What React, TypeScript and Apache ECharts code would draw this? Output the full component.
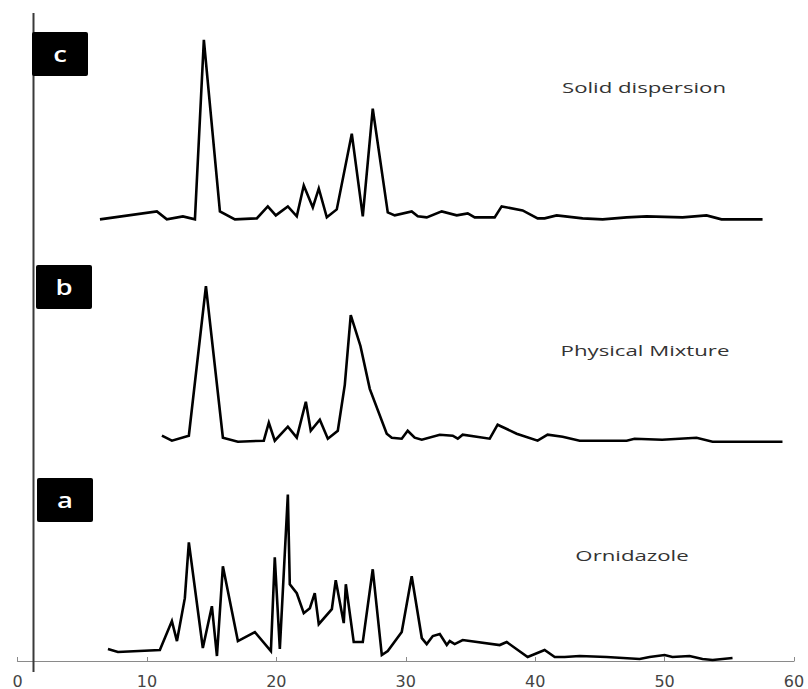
import React, { useEffect, useRef } from "react";
import * as echarts from "echarts";

// X-ray diffraction patterns (2θ, intensity in arbitrary units above each trace's baseline)
const ornidazoleTheta = [
  6.99, 7.76, 11.0, 11.93, 12.32, 12.93, 13.24, 14.32, 15.02, 15.41, 15.87, 17.03, 18.34, 19.58, 19.88,
  20.27, 20.89, 21.04, 21.58, 22.12, 22.59, 22.97, 23.28, 24.29, 24.59, 25.21, 25.37, 25.98, 26.68, 27.45,
  28.15, 28.61, 29.69, 30.46, 31.24, 31.62, 32.09, 32.63, 33.17, 33.4, 33.78, 34.4, 37.26, 37.8, 39.42,
  40.73, 41.51, 42.28, 43.44, 45.52, 48.07, 48.84, 50.0, 50.61, 51.93, 52.93, 53.71, 55.25,
];
const ornidazoleIntensity = [
  12, 9, 11, 40, 20, 63, 119, 13, 55, 5, 95, 20, 29, 10, 104,
  12, 167, 77, 68, 48, 53, 68, 37, 52, 81, 38, 77, 19, 19, 92,
  6, 10, 29, 85, 23, 17, 25, 27, 16, 20, 17, 21, 16, 19, 4,
  11, 4, 4, 5, 4, 2, 4, 6, 4, 5, 2, 1, 3,
];

const physicalTheta = [
  11.16, 11.93, 13.24, 14.56, 15.87, 17.03, 19.03, 19.42, 19.88, 20.89, 21.58, 22.28, 22.66, 23.36, 23.98,
  24.75, 25.29, 25.75, 26.5, 27.22, 28.53, 28.92, 29.69, 30.15, 30.69, 31.24, 32.63, 33.63, 34.02, 34.4,
  36.49, 37.1, 38.57, 40.19, 40.96, 42.12, 43.44, 47.07, 47.68, 49.81, 52.47, 53.71, 56.34, 59.11,
];
const physicalIntensity = [
  6, 1, 6, 156, 4, 0, 1, 19, 1, 15, 4, 40, 11, 22, 3,
  11, 57, 127, 96, 53, 8, 4, 3, 11, 4, 2, 7, 6, 3, 7,
  3, 17, 8, 1, 7, 5, 1, 1, 3, 2, 4, 0, 0, 0,
];

const solidTheta = [
  6.37, 10.77, 11.54, 12.78, 13.71, 14.4, 15.64, 16.8, 18.49, 19.34, 19.96, 20.89, 21.58, 22.12, 22.82,
  23.28, 23.9, 24.67, 25.83, 26.68, 27.45, 28.61, 29.15, 30.46, 30.93, 31.62, 32.78, 33.94, 34.79, 35.33,
  36.87, 37.41, 39.03, 40.19, 40.73, 41.66, 43.67, 45.21, 47.07, 48.61, 51.39, 53.24, 54.4, 57.57,
];
const solidIntensity = [
  0, 8, 0, 3, 0, 180, 8, 0, 1, 13, 4, 13, 3, 34, 12,
  31, 2, 10, 86, 3, 111, 7, 4, 8, 3, 2, 8, 4, 6, 2,
  2, 13, 9, 1, 1, 4, 1, 0, 2, 3, 2, 4, 0, 0,
];

// vertical stacking offsets of the three patterns
const ornidazoleOffset = 0;
const physicalOffset = 220;
const solidOffset = 443;

const xTicks = [0, 10, 20, 30, 40, 50, 60];

const panelLetters = ["c", "b", "a"];
const sampleNames = ["Solid dispersion", "Physical Mixture", "Ornidazole"];

function pairs(theta: number[], inten: number[], offset: number) {
  return theta.map((t, i) => [t, inten[i] + offset]);
}

export default function App() {
  const ref = useRef<HTMLDivElement>(null);

  useEffect(() => {
    if (!ref.current) return;
    const chart = echarts.init(ref.current, undefined, { renderer: "svg" });

    const lineStyle = { color: "#000", width: 2.6, join: "miter" as const };
    const mkSeries = (name: string, data: number[][]) => ({
      name,
      type: "line",
      data,
      showSymbol: false,
      symbol: "none",
      lineStyle,
      silent: true,
      z: 3,
    });

    const boxes = [
      { x: 32, y: 32 },
      { x: 36, y: 265 },
      { x: 37, y: 478 },
    ];
    const nameSpots = [
      { x: 644, y: 87 },
      { x: 645, y: 350 },
      { x: 632, y: 555 },
    ];

    const graphics: any[] = [
      {
        type: "line",
        shape: { x1: 33.5, y1: 13, x2: 33.5, y2: 672 },
        style: { stroke: "#3a3a3a", lineWidth: 2 },
        z: 5,
      },
    ];
    boxes.forEach((b, i) => {
      graphics.push({
        type: "rect",
        shape: { x: b.x, y: b.y, width: 56, height: 44, r: 2 },
        style: { fill: "#000" },
        z: 10,
      });
      graphics.push({
        type: "text",
        x: b.x + 28,
        y: b.y + 21,
        scaleX: 1.25,
        style: {
          text: panelLetters[i],
          fill: "#fff",
          font: "600 22px 'Open Sans', sans-serif",
          textAlign: "center",
          textVerticalAlign: "middle",
        },
        z: 11,
      });
    });
    nameSpots.forEach((p, i) => {
      graphics.push({
        type: "text",
        x: p.x,
        y: p.y,
        scaleX: 1.48,
        style: {
          text: sampleNames[i],
          fill: "#333",
          font: "15px 'Open Sans', sans-serif",
          textAlign: "center",
          textVerticalAlign: "middle",
        },
        z: 10,
      });
    });

    chart.setOption({
      animation: false,
      backgroundColor: "#fff",
      grid: { left: 17.5, right: 14, top: 13, bottom: 26, containLabel: false },
      xAxis: {
        type: "value",
        min: xTicks[0],
        max: xTicks[xTicks.length - 1],
        interval: 10,
        axisLine: { show: true, lineStyle: { color: "#8a8a8a", width: 1.2 } },
        axisTick: { show: true, inside: true, length: 4, lineStyle: { color: "#8a8a8a" } },
        axisLabel: {
          color: "#444",
          fontSize: 16,
          fontFamily: "'DejaVu Sans', sans-serif",
          margin: 12,
        },
        splitLine: { show: false },
      },
      yAxis: {
        type: "value",
        min: 0,
        max: 650,
        show: false,
      },
      series: [
        mkSeries("Solid dispersion", pairs(solidTheta, solidIntensity, solidOffset)),
        mkSeries("Physical Mixture", pairs(physicalTheta, physicalIntensity, physicalOffset)),
        mkSeries("Ornidazole", pairs(ornidazoleTheta, ornidazoleIntensity, ornidazoleOffset)),
      ],
      graphic: graphics,
    });

    return () => chart.dispose();
  }, []);

  return (
    <div
      ref={ref}
      style={{ position: "fixed", left: 0, top: 0, width: 808, height: 689, background: "#fff" }}
    />
  );
}
